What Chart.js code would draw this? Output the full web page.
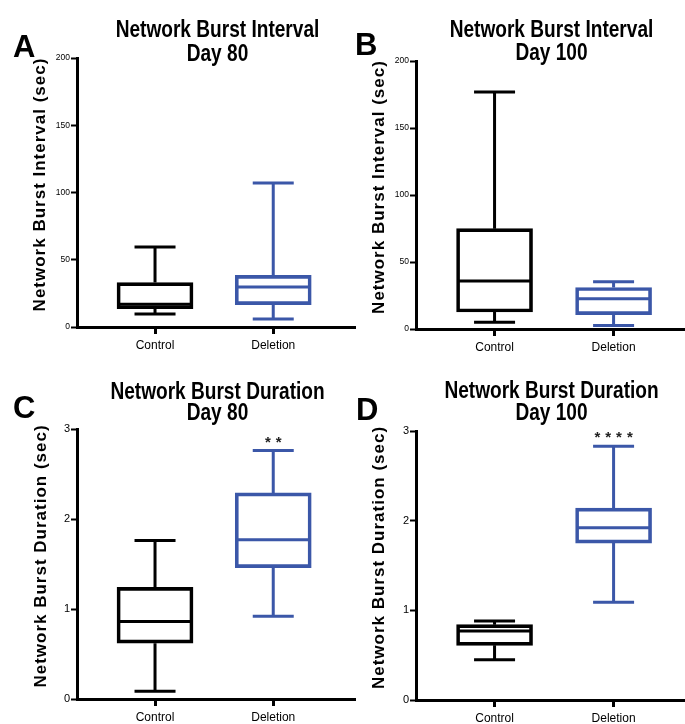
<!DOCTYPE html>
<html>
<head>
<meta charset="utf-8">
<script src="https://cdn.jsdelivr.net/npm/chart.js@4.4.0/dist/chart.umd.min.js"></script>
<style>
html,body{margin:0;padding:0;background:#fff;}
#wrap{position:relative;width:685px;height:724px;overflow:hidden;background:#fff;}
canvas{position:absolute;}
</style>
</head>
<body>
<div id="wrap">
<canvas id="panelA" width="356" height="360" style="left:0px;top:0px"></canvas>
<canvas id="panelB" width="345" height="360" style="left:340px;top:0px"></canvas>
<canvas id="panelC" width="356" height="364" style="left:0px;top:360px"></canvas>
<canvas id="panelD" width="345" height="364" style="left:340px;top:360px"></canvas>
</div>
<script>
// categories and colours
const categories = ["Control", "Deletion"];
const boxColors = ["#000000", "#3b57a8"];

// box stats per group: [min, q1, median, q3, max]
const intervalDay80Control = [9.7, 13.6, 17.0, 33.0, 59.5];
const intervalDay80Deletion = [6.0, 16.6, 29.7, 38.4, 107.0];
const intervalDay100Control = [5.0, 12.7, 35.8, 74.9, 176.9];
const intervalDay100Deletion = [2.7, 10.7, 22.6, 31.0, 35.3];
const durationDay80Control = [0.085, 0.62, 0.86, 1.24, 1.76];
const durationDay80Deletion = [0.92, 1.46, 1.77, 2.29, 2.76];
const durationDay100Control = [0.45, 0.61, 0.77, 0.84, 0.88];
const durationDay100Deletion = [1.09, 1.75, 1.92, 2.14, 2.83];

// significance marks above each group
const starsDay80 = ["", "**"];
const starsDay100 = ["", "****"];

// y tick values
const intervalTicks = [0, 50, 100, 150, 200];
const durationTicks = [0, 1, 2, 3];

const SANS = '"Liberation Sans", Arial, sans-serif';

const panels = [
  {id:"panelA", letter:"A", title:["Network Burst Interval","Day 80"], yTitle:"Network Burst Interval (sec)",
   boxes:[intervalDay80Control, intervalDay80Deletion], stars:["",""], ticks:intervalTicks, tickSize:8.5,
   padTop:58, yW:77, xH:33, xMax:2.70, letterX:13, letterY:57, t1:37, t2:61, yTitleX:40},
  {id:"panelB", letter:"B", title:["Network Burst Interval","Day 100"], yTitle:"Network Burst Interval (sec)",
   boxes:[intervalDay100Control, intervalDay100Deletion], stars:["",""], ticks:intervalTicks, tickSize:8.5,
   padTop:61, yW:76, xH:31, xMax:2.60, letterX:15, letterY:55, t1:37, t2:60, yTitleX:39},
  {id:"panelC", letter:"C", title:["Network Burst Duration","Day 80"], yTitle:"Network Burst Duration (sec)",
   boxes:[durationDay80Control, durationDay80Deletion], stars:starsDay80, ticks:durationTicks, tickSize:11,
   padTop:69, yW:77, xH:25, xMax:2.70, letterX:13, letterY:58, t1:39, t2:60, yTitleX:41},
  {id:"panelD", letter:"D", title:["Network Burst Duration","Day 100"], yTitle:"Network Burst Duration (sec)",
   boxes:[durationDay100Control, durationDay100Deletion], stars:starsDay100, ticks:durationTicks, tickSize:11,
   padTop:71, yW:76, xH:24, xMax:2.60, letterX:16, letterY:60, t1:38, t2:60, yTitleX:39}
];

const boxExtras = {
  id: "boxExtras",
  afterDatasetsDraw(chart) {
    const p = panels.find(q => q.id === chart.canvas.id);
    const ctx = chart.ctx, xs = chart.scales.x, ys = chart.scales.y;
    p.boxes.forEach((b, i) => {
      const cx = xs.getPixelForValue(i + 1);
      const [mn, q1, md, q3, mx] = b.map(v => ys.getPixelForValue(v));
      ctx.save();
      ctx.strokeStyle = boxColors[i];
      ctx.lineWidth = 3;
      ctx.beginPath();
      ctx.moveTo(cx, q3); ctx.lineTo(cx, mx);
      ctx.moveTo(cx, q1); ctx.lineTo(cx, mn);
      ctx.moveTo(cx - 20.5, mx); ctx.lineTo(cx + 20.5, mx);
      ctx.moveTo(cx - 20.5, mn); ctx.lineTo(cx + 20.5, mn);
      ctx.moveTo(cx - 37, md); ctx.lineTo(cx + 37, md);
      ctx.stroke();
      if (p.stars[i]) {
        ctx.fillStyle = "#222";
        ctx.font = "bold 15px " + SANS;
        ctx.letterSpacing = "5px";
        ctx.textAlign = "center";
        ctx.textBaseline = "alphabetic";
        ctx.fillText(p.stars[i], cx + 2.5, mx - 4);
      }
      ctx.restore();
    });
  },
  afterDraw(chart) {
    const p = panels.find(q => q.id === chart.canvas.id);
    const ctx = chart.ctx, area = chart.chartArea;
    const mid = (area.left + area.right) / 2;
    ctx.save();
    ctx.fillStyle = "#000";
    ctx.textBaseline = "alphabetic";
    ctx.textAlign = "left";
    ctx.font = "bold 31px " + SANS;
    ctx.fillText(p.letter, p.letterX, p.letterY);
    // condensed two-line title
    ctx.save();
    ctx.translate(mid + 1, 0);
    ctx.scale(0.83, 1);
    ctx.textAlign = "center";
    ctx.font = "bold 23px " + SANS;
    ctx.fillText(p.title[0], 0, p.t1);
    ctx.fillText(p.title[1], 0, p.t2);
    ctx.restore();
    // rotated y title
    ctx.translate(p.yTitleX, (area.top + area.bottom) / 2 - 8);
    ctx.rotate(-Math.PI / 2);
    ctx.textAlign = "center";
    ctx.textBaseline = "middle";
    ctx.font = "bold 17px " + SANS;
    ctx.letterSpacing = "1px";
    ctx.fillText(p.yTitle, 0, 0);
    ctx.restore();
  }
};

panels.forEach(p => {
  new Chart(document.getElementById(p.id), {
    type: "bar",
    data: {
      datasets: [{
        data: p.boxes.map((b, i) => ({x: i + 1, y: [b[1], b[3]]})),
        backgroundColor: "rgba(0,0,0,0)",
        borderColor: boxColors,
        borderWidth: 3,
        borderSkipped: false,
        barThickness: 76
      }]
    },
    options: {
      responsive: false,
      animation: false,
      devicePixelRatio: 1,
      layout: {padding: {top: p.padTop, left: 0, right: 0, bottom: 0}},
      plugins: {legend: {display: false}, tooltip: {enabled: false}, title: {display: false}},
      scales: {
        x: {
          type: "linear",
          offset: false,
          min: 0.34,
          max: p.xMax,
          afterFit: s => { s.height = p.xH; },
          afterBuildTicks: s => { s.ticks = categories.map((c, i) => ({value: i + 1})); },
          ticks: {
            callback: v => categories[v - 1],
            color: "#000",
            padding: 4,
            font: {family: SANS, size: 12},
            maxRotation: 0
          },
          grid: {offset: false, drawOnChartArea: false, tickLength: 7, tickWidth: 3, color: "#000"},
          border: {display: true, color: "#000", width: 3}
        },
        y: {
          min: p.ticks[0],
          max: p.ticks[p.ticks.length - 1],
          afterFit: s => { s.width = p.yW; },
          afterBuildTicks: s => { s.ticks = p.ticks.map(v => ({value: v})); },
          ticks: {color: "#000", padding: 1, font: {family: SANS, size: p.tickSize}},
          grid: {drawOnChartArea: false, tickLength: 6, tickWidth: 2, color: "#000"},
          border: {display: true, color: "#000", width: 3}
        }
      }
    },
    plugins: [boxExtras]
  });
});
</script>
</body>
</html>
